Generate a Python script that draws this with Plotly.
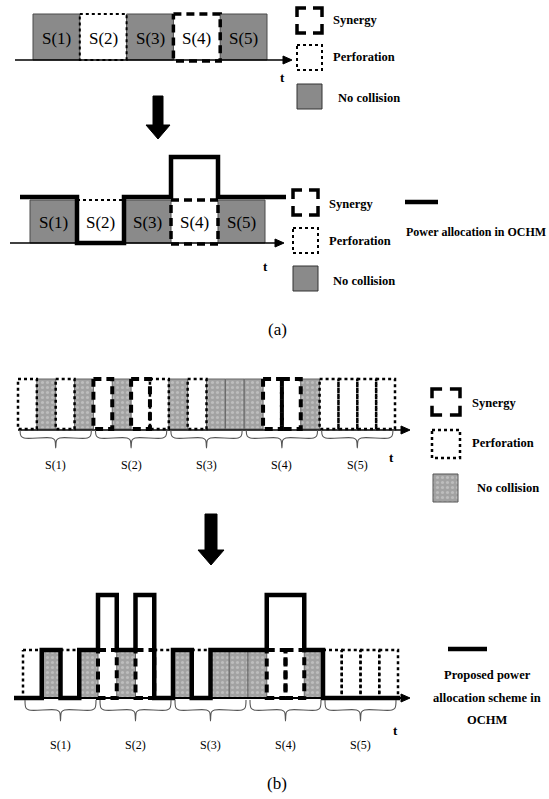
import plotly.graph_objects as go

# ---------------- data ----------------
# slot types: N = no collision, P = perforation, S = synergy
slots_a = ["N", "P", "N", "S", "N"]
slot_labels = ["S(1)", "S(2)", "S(3)", "S(4)", "S(5)"]
subslots_b = ["P", "N", "P", "N",
              "S", "N", "S", "P",
              "N", "P", "N", "N",
              "N", "S", "S", "N",
              "P", "P", "P", "P"]
subslots_per_group = 4
power_levels = {"P": 0, "N": 1, "S": 2}
legend_names = ["Synergy", "Perforation", "No collision"]
power_legend_a = "Power allocation in OCHM"
power_legend_b = ["Proposed power", "allocation scheme in", "OCHM"]
panel_labels = ["(a)", "(b)"]
axis_label = "t"

# ---------------- styles ----------------
W, H = 549, 799
GRAY_A = "#8a8a8a"
GRAY_B = "#a2a2a2"
SERIF = "Liberation Serif"
SYN_DASH = "8px,5px"

fig = go.Figure()


def poly(xs, ys, **kw):
    fig.add_trace(go.Scatter(x=xs, y=ys, mode="lines", hoverinfo="skip",
                             showlegend=False, **kw))


def rect_fill(x0, x1, y0, y1, color, pattern=False, border="#4a4a4a", bw=1):
    kw = dict(fill="toself", fillcolor=color, line=dict(color=border, width=bw))
    if pattern:
        kw["fillpattern"] = dict(shape=".", bgcolor=color, fgcolor="#d8d8d8",
                                 size=5, solidity=0.3)
    poly([x0, x1, x1, x0, x0], [y0, y0, y1, y1, y0], **kw)


def rect_outline(x0, x1, y0, y1, dash, width, color="black"):
    poly([x0, x1, x1, x0, x0], [y0, y0, y1, y1, y0],
         line=dict(color=color, width=width, dash=dash))


def corner_box(x0, x1, y0, y1, width=3.5, frac=0.36):
    cx = (x1 - x0) * frac
    cy = (y1 - y0) * frac
    for xa, ya, sx, sy in [(x0, y0, 1, 1), (x1, y0, -1, 1),
                           (x0, y1, 1, -1), (x1, y1, -1, -1)]:
        poly([xa + sx * cx, xa, xa], [ya, ya, ya + sy * cy],
             line=dict(color="black", width=width))


def time_axis(x0, x1, y, width=1.5):
    poly([x0, x1 - 4], [y, y], line=dict(color="black", width=width))
    poly([x1 - 9, x1, x1 - 9, x1 - 9], [y - 4, y, y + 4, y - 4],
         fill="toself", fillcolor="black", line=dict(color="black", width=1))


def down_arrow(cx, ytop, yhead, ytip, shaft=5, head=12):
    xs = [cx - shaft, cx + shaft, cx + shaft, cx + head, cx, cx - head, cx - shaft, cx - shaft]
    ys = [ytop, ytop, yhead, yhead, ytip, yhead, yhead, ytop]
    poly(xs, ys, fill="toself", fillcolor="black", line=dict(color="black", width=1))


def power_line(types, x0, w, xstart, xend, ymap, width=4.5):
    lv = [ymap[power_levels[t]] for t in types]
    xs = [xstart] + [x0 + i * w for i in range(1, len(types))] + [xend]
    ys = lv + [lv[-1]]
    poly(xs, ys, line=dict(color="black", width=width, shape="hv"))


def brace(x0, x1, ytop, ymid, ytip, color="#555"):
    xc = (x0 + x1) / 2
    path_x, path_y = [], []
    path_x += [x0, x0 + 1, x0 + 4, xc - 4, xc - 1, xc]
    path_y += [ytop, ymid - 2, ymid, ymid, ymid + 2, ytip]
    path_x += [xc + 1, xc + 4, x1 - 4, x1 - 1, x1]
    path_y += [ymid + 2, ymid, ymid, ymid - 2, ytop]
    poly(path_x, path_y, line=dict(color=color, width=1.1, shape="spline"))


annotations = []


def text(x, y, s, size=13, bold=True, anchor="left"):
    annotations.append(dict(x=x, y=y, xref="x", yref="y", text=s, showarrow=False,
                            xanchor=anchor, yanchor="middle",
                            font=dict(family=SERIF, size=size, color="black",
                                      weight="bold" if bold else "normal")))


# ---------------- panel (a) top ----------------
ax0, aw, at, ab = 33, 46.8, 14, 60
for i, t in enumerate(slots_a):
    x0, x1 = ax0 + i * aw, ax0 + (i + 1) * aw
    if t == "N":
        rect_fill(x0, x1, at, ab, GRAY_A)
for i, t in enumerate(slots_a):
    x0, x1 = ax0 + i * aw, ax0 + (i + 1) * aw
    if t == "P":
        rect_outline(x0, x1, at, ab, "dot", 2)
    elif t == "S":
        rect_outline(x0, x1, at, ab + 1, SYN_DASH, 3.5)
    text((x0 + x1) / 2, (at + ab) / 2 + 1, slot_labels[i], size=17, bold=False, anchor="center")
time_axis(15, 292, 60)
text(278, 77, axis_label, size=13)

# legend (a) top
corner_box(297, 322, 8, 33)
text(331, 20, legend_names[0], size=12.5)
rect_outline(297, 322, 45, 70, "dot", 2)
text(331, 57, legend_names[1], size=12.5)
rect_fill(297, 322, 84, 109, GRAY_A, border="#333")
text(336, 98, legend_names[2], size=12.5)

down_arrow(158, 96, 125, 139)

# ---------------- panel (a) bottom ----------------
bx0, bw, bt, bb = 30, 47, 200, 243
for i, t in enumerate(slots_a):
    x0, x1 = bx0 + i * bw, bx0 + (i + 1) * bw
    if t == "N":
        rect_fill(x0, x1, bt, bb, GRAY_A)
for i, t in enumerate(slots_a):
    x0, x1 = bx0 + i * bw, bx0 + (i + 1) * bw
    if t == "P":
        rect_outline(x0, x1, bt, bb, "dot", 2)
    elif t == "S":
        rect_outline(x0, x1, bt, bb + 1, SYN_DASH, 3.5)
time_axis(10, 284, 243)
power_line(slots_a, bx0, bw, 20, 286, {0: 243, 1: 197, 2: 157})
for i in range(len(slots_a)):
    x0, x1 = bx0 + i * bw, bx0 + (i + 1) * bw
    text((x0 + x1) / 2, (bt + bb) / 2 + 1, slot_labels[i], size=17, bold=False, anchor="center")
text(261, 266, axis_label, size=13)

# legend (a) bottom
corner_box(293, 318, 190, 215)
text(327, 204, legend_names[0], size=12.5)
rect_outline(293, 318, 228, 253, "dot", 2)
text(327, 241, legend_names[1], size=12.5)
rect_fill(293, 318, 266, 291, GRAY_A, border="#333")
text(331, 281, legend_names[2], size=12.5)
poly([405, 438], [202, 202], line=dict(color="black", width=4.5))
text(404, 232, power_legend_a, size=12)

text(277, 329, panel_labels[0], size=17, bold=False, anchor="center")

# ---------------- panel (b) top ----------------
cx0, cw, ct, cb = 18, 18.85, 379, 429
for i, t in enumerate(subslots_b):
    x0, x1 = cx0 + i * cw, cx0 + (i + 1) * cw
    if t == "N":
        rect_fill(x0, x1, ct, cb, GRAY_B, pattern=True, border="#666")
for i, t in enumerate(subslots_b):
    x0, x1 = cx0 + i * cw, cx0 + (i + 1) * cw
    if t == "P":
        rect_outline(x0, x1, ct, cb, "dot", 2.5)
    elif t == "S":
        rect_outline(x0, x1, ct, cb, SYN_DASH, 4)
time_axis(18, 410, 430)
ng = len(subslots_b) // subslots_per_group
for g in range(ng):
    x0 = cx0 + g * subslots_per_group * cw
    x1 = x0 + subslots_per_group * cw
    brace(x0 + 2, x1 - 2, 430, 438, 448)
    text((x0 + x1) / 2, 465, slot_labels[g], size=12, bold=False, anchor="center")
text(387, 457, axis_label, size=13)

# legend (b) top
corner_box(432, 460, 389, 415)
text(470, 403, legend_names[0], size=12.5)
rect_outline(432, 460, 430, 458, "dot", 2.5)
text(470, 443, legend_names[1], size=12.5)
rect_fill(433, 458, 474, 502, GRAY_B, pattern=True, border="#555")
text(475, 488, legend_names[2], size=12.5)

down_arrow(211, 514, 550, 565, shaft=6, head=13)

# ---------------- panel (b) bottom ----------------
dx0, dw, dt, db = 23, 18.75, 650, 698
for i, t in enumerate(subslots_b):
    x0, x1 = dx0 + i * dw, dx0 + (i + 1) * dw
    if t == "N":
        rect_fill(x0, x1, dt, db, GRAY_B, pattern=True, border="#666")
for i, t in enumerate(subslots_b):
    x0, x1 = dx0 + i * dw, dx0 + (i + 1) * dw
    if t == "P":
        rect_outline(x0, x1, dt, db, "dot", 2.5)
    elif t == "S":
        rect_outline(x0, x1, dt, db, SYN_DASH, 4)
time_axis(14, 410, 698, width=2)
power_line(subslots_b, dx0, dw, 14, 400, {0: 698, 1: 650, 2: 595})
for g in range(ng):
    x0 = dx0 + g * subslots_per_group * dw
    x1 = x0 + subslots_per_group * dw
    brace(x0 + 2, x1 - 2, 700, 710, 721)
    text((x0 + x1) / 2, 745, slot_labels[g], size=12, bold=False, anchor="center")
text(391, 730, axis_label, size=13)

# legend (b) bottom
poly([448, 487], [649, 649], line=dict(color="black", width=4.5))
for k, s in enumerate(power_legend_b):
    text(487, 675 + k * 22.5, s, size=12.5, anchor="center")

text(277, 783, panel_labels[1], size=17, bold=False, anchor="center")

fig.update_layout(
    width=W, height=H,
    margin=dict(l=0, r=0, t=0, b=0),
    paper_bgcolor="white", plot_bgcolor="white",
    xaxis=dict(range=[0, W], visible=False, fixedrange=True),
    yaxis=dict(range=[H, 0], visible=False, fixedrange=True),
    annotations=annotations,
    showlegend=False,
)
fig.write_html("out.html",
               config={"displayModeBar": False, "staticPlot": True},
               post_script="document.body.style.margin='0';document.body.style.overflow='hidden';")
